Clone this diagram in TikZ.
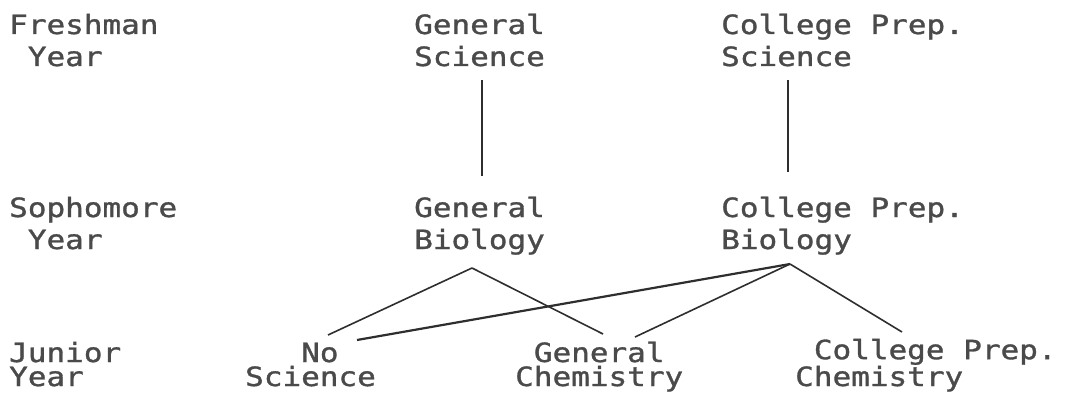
\documentclass[tikz,border=0pt]{standalone}
\usepackage{fontspec}
\usepackage{tikz}
\newfontfamily\typefont[FakeStretch=1.17,FakeBold=1.2]{DejaVu Sans Mono}
\definecolor{inkgray}{HTML}{4A4A4A}
\definecolor{linegray}{HTML}{2E2E2E}
\tikzset{course/.style={anchor=base west,inner sep=0pt,align=left,text=inkgray,
  font=\typefont\fontsize{26.5}{32}\selectfont},
tight/.style={font=\typefont\fontsize{26.5}{24}\selectfont},
link/.style={linegray,line width=1.6pt}}

\begin{document}
\begin{tikzpicture}[x=1pt,y=-1pt]
\useasboundingbox (0,0) rectangle (1067,393);
% year column (nodes sit on the baseline of their last line)
\node[course] (fresh) at (9,66) {Freshman\\\hphantom{F}Year};
\node[course] (soph) at (9,249) {Sophomore\\\hphantom{S}Year};
\node[course,tight] (jun) at (9,386) {Junior\\Year};
% courses
\node[course] (gsci) at (414,66) {General\\Science};
\node[course] (cpsci) at (721,66) {College Prep.\\Science};
\node[course] (gbio) at (414,249) {General\\Biology};
\node[course] (cpbio) at (721,249) {College Prep.\\Biology};
\node[course,tight] (nosci) at (245,386) {\hphantom{Sci}No\\Science};
\node[course,tight] (gchem) at (515,386) {\hphantom{C}General\\Chemistry};
\node[course,tight] (cpchem) at (795,386) {\hphantom{C}College Prep.\\Chemistry};
% branch points
\coordinate (gbiotip) at ([shift={(58,19)}]gbio.base west);
\coordinate (cpbiotip) at ([shift={(69,15)}]cpbio.base west);
\draw[link] ([shift={(68,14)}]gsci.base west) -- ([shift={(68,-73)}]gbio.base west);
\draw[link] ([shift={(67,14)}]cpsci.base west) -- ([shift={(67,-77)}]cpbio.base west);
\draw[link] (gbiotip) -- ([shift={(83,-51)}]nosci.base west);
\draw[link] (gbiotip) -- ([shift={(88,-52)}]gchem.base west);
\draw[link,line width=2.2pt] (cpbiotip) -- ([shift={(112,-46)}]nosci.base west);
\draw[link] (cpbiotip) -- ([shift={(120,-49)}]gchem.base west);
\draw[link] (cpbiotip) -- ([shift={(107,-54)}]cpchem.base west);
\end{tikzpicture}
\end{document}
